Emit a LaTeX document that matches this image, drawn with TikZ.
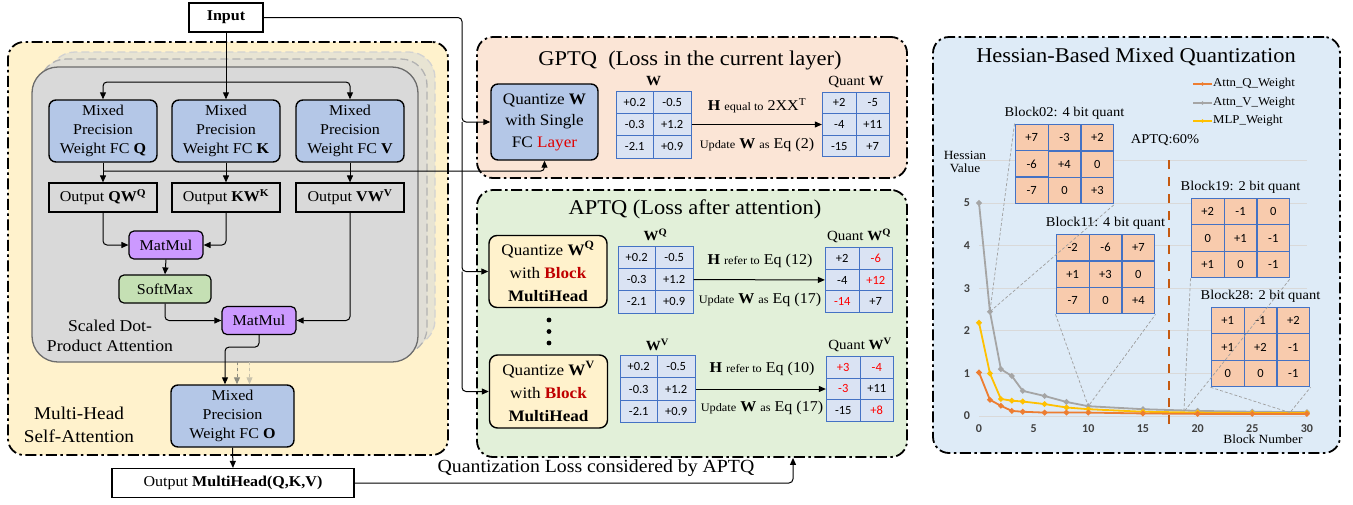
\documentclass[tikz,border=0pt]{standalone}
\usepackage{fontspec}
\setmainfont{Liberation Serif}[FakeStretch=1.07]
\newfontfamily\numfont{Carlito}
\usetikzlibrary{arrows.meta,positioning,matrix,calc}

\definecolor{mhfill}{HTML}{FFF2CC}
\definecolor{gpfill}{HTML}{FBE5D6}
\definecolor{apfill}{HTML}{E2F0D9}
\definecolor{hsfill}{HTML}{DEEBF7}
\definecolor{fcblue}{HTML}{B4C7E7}
\definecolor{qyellow}{HTML}{FFF2CC}
\definecolor{mmpurple}{HTML}{CC99FF}
\definecolor{smgreen}{HTML}{C5E0B4}
\definecolor{wfill}{HTML}{DAE3F3}
\definecolor{cellline}{HTML}{4472C4}
\definecolor{borange}{HTML}{F8CBAD}
\definecolor{serQ}{HTML}{ED7D31}
\definecolor{serV}{HTML}{A5A5A5}
\definecolor{serM}{HTML}{FFC000}
\definecolor{aptqorange}{HTML}{C55A11}
\definecolor{stackA}{HTML}{E8E4D3}
\definecolor{stackB}{HTML}{E0DED6}
\definecolor{stackfront}{HTML}{D9D9D9}
\definecolor{layerred}{HTML}{E00000}
\definecolor{blockred}{HTML}{C00000}
\definecolor{ghostA}{HTML}{8C8B7E}
\definecolor{ghostB}{HTML}{C8C2AC}
\definecolor{ticktext}{HTML}{404040}

\newcommand\lowtxt[1]{{\fontsize{11.5}{14}\selectfont #1}}

\tikzset{
  panel/.style={draw, line width=1.8pt, dash pattern=on 11pt off 3.5pt on 2.5pt off 3.5pt,
    rounded corners=16pt, inner sep=0pt},
  stackbox/.style={line width=1.3pt, dash pattern=on 8pt off 4pt, rounded corners=26pt},
  fcbox/.style={draw, line width=1.4pt, rounded corners=7pt, fill=fcblue, align=center,
    minimum width=108, minimum height=62, inner sep=0pt, font=\fontsize{15}{19}\selectfont},
  qbox/.style={draw, line width=1.4pt, rounded corners=8pt, fill=qyellow, align=center,
    minimum width=118, minimum height=72, inner sep=0pt, font=\fontsize{16}{23}\selectfont},
  outbox/.style={draw, line width=1.2pt, minimum width=108, minimum height=29, inner sep=0pt,
    font=\fontsize{15}{18}\selectfont},
  plainbox/.style={draw, line width=1.2pt, fill=white, inner sep=0pt, font=\fontsize{15}{18}\selectfont},
  opbox/.style={draw, line width=1.2pt, rounded corners=5pt, minimum height=28, inner sep=0pt,
    font=\fontsize{15}{18}\selectfont},
  note/.style={align=center, inner sep=0pt, font=\fontsize{16.5}{20}\selectfont},
  title/.style={inner sep=0pt, font=\fontsize{21}{24}\selectfont},
  mlab/.style={inner sep=0pt, font=\fontsize{14}{16}\selectfont},
  htext/.style={inner sep=0pt, font=\fontsize{15}{18}\selectfont},
  link/.style={->, line width=1pt, rounded corners=4pt},
  cell/.style={draw=cellline, line width=0.9pt, inner sep=0pt, font=\numfont\fontsize{12.5}{14}\selectfont},
  wgrid/.style={matrix of nodes, inner sep=0pt, column sep=-0.9pt, row sep=-0.9pt,
    nodes={cell, fill=wfill, minimum width=37.5, minimum height=22.3}},
  qgrid/.style={matrix of nodes, inner sep=0pt, column sep=-0.9pt, row sep=-0.9pt,
    nodes={cell, fill=wfill, minimum width=33.5, minimum height=21.5}},
  bgrid/.style={matrix of nodes, inner sep=0pt, column sep=-1.2pt, row sep=-1.2pt,
    nodes={cell, line width=1.2pt, fill=borange, minimum width=32.8, minimum height=26.3}},
  blocklab/.style={inner sep=0pt, font=\fontsize{13.5}{15}\selectfont},
  tick/.style={inner sep=0pt, text=ticktext, font=\numfont\bfseries\fontsize{12}{13}\selectfont},
  gridline/.style={draw=black!15, line width=0.8pt},
  zoomline/.style={draw=gray!75, line width=0.7pt, dash pattern=on 3pt off 2pt},
  series/.style={draw=#1, line width=1.8pt, mark=*, mark size=1.8pt, mark options={fill=#1, draw=#1}},
  leg/.style={inner sep=0pt, font=\fontsize{12}{13}\selectfont},
}

\begin{document}
\begin{tikzpicture}[x=1pt,y=-1pt,>={Triangle[length=7pt,width=6pt]}]
\useasboundingbox (0,0) rectangle (1353,504);

% panels
\node[panel, fill=mhfill, minimum width=440, minimum height=413] (mha) at (228,248.5) {};
\node[panel, fill=gpfill, minimum width=430, minimum height=141] (gptq) at (692,107.5) {};
\node[panel, fill=apfill, minimum width=430, minimum height=267] (aptq) at (692,323.5) {};
\node[panel, fill=hsfill, minimum width=407, minimum height=416] (hess) at (1136.5,245) {};

% stacked heads
\draw[stackbox, draw=gray!35, fill=stackA] (49,52) rectangle (435,346);
\draw[stackbox, draw=gray!60, fill=stackB] (40,59) rectangle (427,354);
\draw[stackbox, solid, draw=gray!85!black, fill=stackfront] (32,67) rectangle (418,362);

% multi-head attention
\node[plainbox, font=\bfseries\fontsize{15}{18}\selectfont, minimum width=74, minimum height=29] (input) at (226,17.5) {Input};
\node[fcbox] (fcq) at (103,131) {Mixed\\Precision\\Weight FC \textbf{Q}};
\node[fcbox] (fck) at (226,131) {Mixed\\Precision\\Weight FC \textbf{K}};
\node[fcbox] (fcv) at (350,131) {Mixed\\Precision\\Weight FC \textbf{V}};
\node[outbox] (outq) at (103,197.5) {Output \textbf{QW}\textsuperscript{\textbf{Q}}};
\node[outbox] (outk) at (226,197.5) {Output \textbf{KW}\textsuperscript{\textbf{K}}};
\node[outbox] (outv) at (350,197.5) {Output \textbf{VW}\textsuperscript{\textbf{V}}};
\node[opbox, fill=mmpurple, minimum width=74] (mm1) at (166,245) {MatMul};
\node[opbox, fill=smgreen, minimum width=92] (sm) at (165,289) {SoftMax};
\node[opbox, fill=mmpurple, minimum width=74] (mm2) at (259,320.5) {MatMul};
\node[note] (sdpa) at (110,336) {Scaled Dot-\\Product Attention};
\node[fcbox, minimum width=123] (fco) at (232.5,416) {Mixed\\Precision\\Weight FC \textbf{O}};
\node[note, font=\fontsize{18}{23}\selectfont] (mhlab) at (79,425) {Multi-Head\\Self-Attention};
\node[plainbox, minimum width=242, minimum height=29] (mh) at (233,483) {Output \textbf{MultiHead(Q,K,V)}};

\coordinate (split) at (226,82);
\draw[link] (input.south) -- (fck.north);
\draw[link] (split) -| (fcq.north);
\draw[link] (split) -| (fcv.north);
\draw[link] (fcq.south) -- (outq.north);
\draw[link] (fck.south) -- (outk.north);
\draw[link] (fcv.south) -- (outv.north);
\draw[link] (outq.south) |- (mm1.west);
\draw[link] (outk.south) |- (mm1.east);
\draw[link] (mm1.south) -- (sm.north);
\draw[link] (sm.south) |- (mm2.west);
\draw[link] (outv.south) |- (mm2.east);
\draw[link] (mm2.south) -- ++(0,12) -| ([xshift=-7.5]fco.north);
\draw[->, line width=1pt, dashed, draw=ghostA, fill=ghostA] ([xshift=4.5]fco.north) ++(0,-22) -- ([xshift=4.5]fco.north);
\draw[->, line width=1pt, dashed, draw=ghostB, fill=ghostB] ([xshift=17]fco.north) ++(0,-22) -- ([xshift=17]fco.north);
\draw[link] (fco.south) -- (mh.north);

% GPTQ
\node[title] (gptqt) at (690,60) {GPTQ\ \ (Loss in the current layer)};
\node[fcbox, minimum width=107, minimum height=76, font=\fontsize{16}{21.5}\selectfont] (qw) at (544.5,122)
  {Quantize \textbf{W}\\with Single\\FC \textcolor{layerred}{Layer}};
\matrix (wg) [wgrid] at (653.5,124.5) {+0.2 & -0.5\\ -0.3 & +1.2\\ -2.1 & +0.9\\};
\node[mlab, above=4pt of wg] (wglab) {\textbf{W}};
\matrix (qg) [qgrid] at (856,124.5) {+2 & -5\\ -4 & +11\\ -15 & +7\\};
\node[mlab, above=4pt of qg] (qglab) {Quant \textbf{W}};
\draw[->, line width=1pt] (wg) -- (qg);
\node[htext] (gh) at (757,106) {\textbf{H} \lowtxt{equal to} 2XX\textsuperscript{T}};
\node[htext] (gu) at (757,145) {\lowtxt{Update} \textbf{W} \lowtxt{as} Eq (2)};

% APTQ
\node[title] (aptqt) at (695,209) {APTQ (Loss after attention)};
\node[qbox] (qwq) at (548,271.5) {Quantize \textbf{W}\textsuperscript{\textbf{Q}}\\with \textcolor{blockred}{\textbf{Block}}\\\textbf{MultiHead}};
\matrix (wqg) [wgrid] at (655.5,279.5) {+0.2 & -0.5\\ -0.3 & +1.2\\ -2.1 & +0.9\\};
\node[mlab, above=4pt of wqg] (wqlab) {\textbf{W}\textsuperscript{\textbf{Q}}};
\matrix (qqg) [qgrid] at (859,280) {+2 & |[text=red]| -6\\ -4 & |[text=red]| +12\\ |[text=red]| -14 & +7\\};
\node[mlab, above=4pt of qqg] (qqlab) {Quant \textbf{W}\textsuperscript{\textbf{Q}}};
\draw[->, line width=1pt] (wqg) -- (qqg);
\node[htext] (ah1) at (760,261) {\textbf{H} \lowtxt{refer to} Eq (12)};
\node[htext] (au1) at (760,300) {\lowtxt{Update} \textbf{W} \lowtxt{as} Eq (17)};

\foreach \y in {320,331.5,343} \fill (549,\y) circle (2.4pt);

\node[qbox, minimum height=73] (qwv) at (548.5,391.5) {Quantize \textbf{W}\textsuperscript{\textbf{V}}\\with \textcolor{blockred}{\textbf{Block}}\\\textbf{MultiHead}};
\matrix (wvg) [wgrid] at (657.5,389) {+0.2 & -0.5\\ -0.3 & +1.2\\ -2.1 & +0.9\\};
\node[mlab, above=4pt of wvg] (wvlab) {\textbf{W}\textsuperscript{\textbf{V}}};
\matrix (qvg) [qgrid] at (860,389) {|[text=red]| +3 & |[text=red]| -4\\ |[text=red]| -3 & +11\\ -15 & |[text=red]| +8\\};
\node[mlab, above=4pt of qvg] (qvlab) {Quant \textbf{W}\textsuperscript{\textbf{V}}};
\draw[->, line width=1pt] (wvg) -- (qvg);
\node[htext] (ah2) at (762,369) {\textbf{H} \lowtxt{refer to} Eq (10)};
\node[htext] (au2) at (762,408) {\lowtxt{Update} \textbf{W} \lowtxt{as} Eq (17)};

% input bus and loss feedback
\coordinate (bus) at (462,0);
\draw[link] (input.east) -| (bus |- qw.west) -- (qw.west);
\draw[link] (bus |- qw.west) |- (qwq.west);
\draw[link] (bus |- qwq.west) |- (qwv.west);
\coordinate (tap) at ($(fcq.south)!0.43!(outq.north)$);
\draw[link] (tap) -| (qw.south);
\coordinate (aptqin) at ([xshift=101]aptq.south);
\draw[link] (mh.east) -| (aptqin);
\node[note, font=\fontsize{18.5}{20}\selectfont] (qloss) at (596,468) {Quantization Loss considered by APTQ};

% Hessian chart
\node[title] (hesst) at (1136,57) {Hessian-Based Mixed Quantization};
\begin{scope}[shift={(979,416)}, x=10.93pt, y=42.6pt]
  \foreach \v in {0,...,6} \draw[gridline] (0,\v) -- (30,\v);
  \foreach \v in {0,...,5} \node[tick] (yt\v) at (-1.1,\v) {\v};
  \foreach \v in {0,5,...,30} \node[tick] (xt\v) at (\v,-0.29) {\v};
  \coordinate (z02) at (1,2.45);
  \coordinate (z11) at (10,0.23);
  \coordinate (z19) at (18.75,0.1);
  \coordinate (z28) at (28.45,0.08);
  \draw[series=serV] plot coordinates {(0,5.0) (1,2.45) (2,1.1) (3,0.94) (4,0.59) (6,0.47) (8,0.33) (10,0.23) (15,0.16) (20,0.12) (25,0.1) (30,0.09)};
  \draw[series=serM] plot coordinates {(0,2.19) (1,1.0) (2,0.4) (3,0.36) (4,0.34) (6,0.28) (8,0.2) (10,0.16) (15,0.1) (20,0.08) (25,0.07) (30,0.07)};
  \draw[series=serQ] plot coordinates {(0,1.02) (1,0.38) (2,0.24) (3,0.12) (4,0.1) (6,0.08) (8,0.08) (10,0.08) (15,0.06) (20,0.05) (25,0.05) (30,0.05)};
  \draw[draw=aptqorange, line width=2pt, dash pattern=on 9pt off 8pt] (17.4,-0.19) -- (17.4,6.17);
\end{scope}
\node[leg, align=center, font=\fontsize{12.5}{13}\selectfont] (hval) at (965,162) {Hessian\\Value};
\node[leg, font=\fontsize{12.5}{14}\selectfont] (bnum) at (1263,439) {Block Number};
\node[blocklab] (aptqlab) at (1165,140) {APTQ:60\%};

\foreach \y/\c/\t in {84/serQ/Attn\_Q\_Weight, 103/serV/Attn\_V\_Weight, 121/serM/MLP\_Weight} {
  \draw[draw=\c, line width=1.8pt] (1193,\y) -- (1212,\y);
  \fill[\c] (1202.5,\y) circle (1.8pt);
  \node[leg, anchor=west] (leg\y) at (1213,\y) {\t};
}

\matrix (b02) [bgrid] at (1064.5,164) {+7 & -3 & +2\\ -6 & +4 & 0\\ -7 & 0 & +3\\};
\node[blocklab, above=4pt of b02] (b02lab) {Block02: 4 bit quant};
\matrix (b11) [bgrid] at (1105.5,274) {-2 & -6 & +7\\ +1 & +3 & 0\\ -7 & 0 & +4\\};
\node[blocklab, above=4pt of b11] (b11lab) {Block11: 4 bit quant};
\matrix (b19) [bgrid] at (1240.5,238) {+2 & -1 & 0\\ 0 & +1 & -1\\ +1 & 0 & -1\\};
\node[blocklab, above=4pt of b19] (b19lab) {Block19: 2 bit quant};
\matrix (b28) [bgrid] at (1260.5,347) {+1 & -1 & +2\\ +1 & +2 & -1\\ 0 & 0 & -1\\};
\node[blocklab, above=4pt of b28] (b28lab) {Block28: 2 bit quant};

\draw[zoomline] (b02.north west) -- (z02) -- (b02.south east);
\draw[zoomline] (b11.south west) -- (z11) -- (b11.south east);
\draw[zoomline] (b19.south west) -- (z19) -- (b19.south east);
\draw[zoomline] (b28.south west) -- (z28) -- (b28.south east);
\end{tikzpicture}
\end{document}
